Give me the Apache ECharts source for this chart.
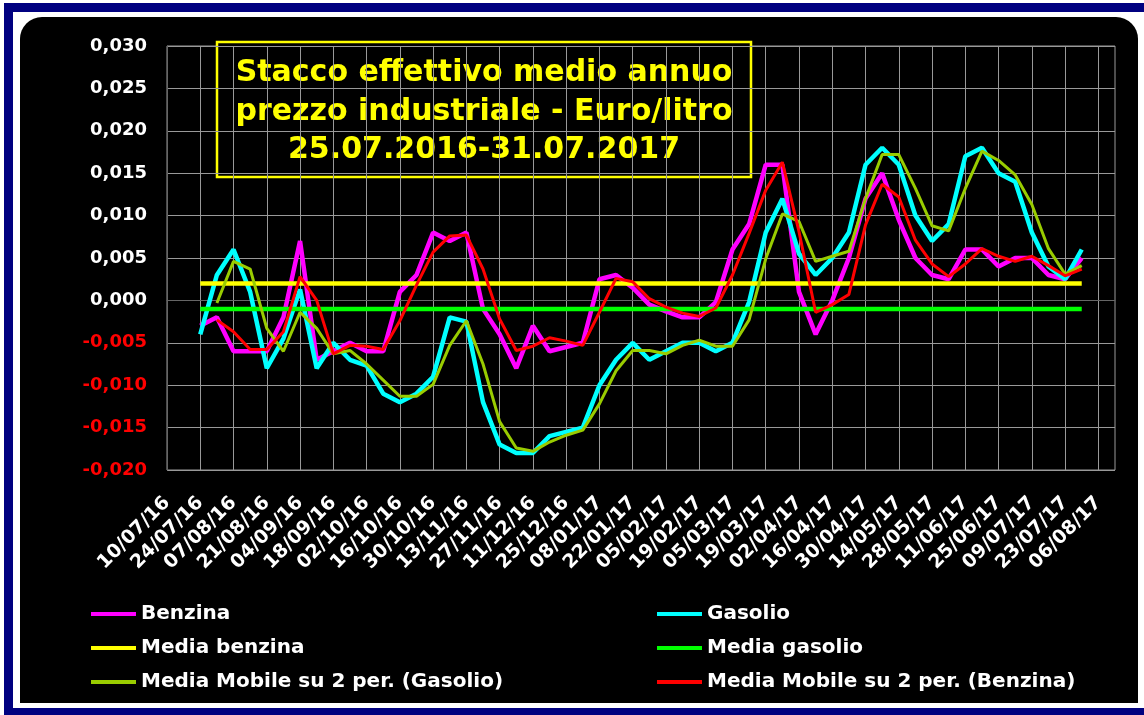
<!DOCTYPE html>
<html>
<head>
<meta charset="utf-8">
<script src="https://cdn.jsdelivr.net/npm/echarts@6/dist/echarts.min.js"></script>
<style>
  html, body { margin: 0; padding: 0; background: #fff; }
  .bar { position: absolute; background: #000080; }
  #box { position: absolute; left: 20px; top: 17px; width: 1118px; height: 686px; background: #000; border-radius: 22px 22px 0 0; }
  #chart { position: absolute; left: 0; top: 0; width: 1144px; height: 715px; }
</style>
</head>
<body>
<div class="bar" style="left:4px;top:3px;width:1140px;height:9px"></div>
<div class="bar" style="left:4px;top:3px;width:9px;height:712px"></div>
<div class="bar" style="left:4px;top:708px;width:1140px;height:7px"></div>
<div id="box"></div>
<div id="chart"></div>
<script>
// settimane (domeniche) dell'asse, etichetta ogni due settimane
const weeks = [
  "10/07/16", "17/07/16", "24/07/16", "31/07/16", "07/08/16", "14/08/16", "21/08/16", "28/08/16",
  "04/09/16", "11/09/16", "18/09/16", "25/09/16", "02/10/16", "09/10/16", "16/10/16", "23/10/16",
  "30/10/16", "06/11/16", "13/11/16", "20/11/16", "27/11/16", "04/12/16", "11/12/16", "18/12/16",
  "25/12/16", "01/01/17", "08/01/17", "15/01/17", "22/01/17", "29/01/17", "05/02/17", "12/02/17",
  "19/02/17", "26/02/17", "05/03/17", "12/03/17", "19/03/17", "26/03/17", "02/04/17", "09/04/17",
  "16/04/17", "23/04/17", "30/04/17", "07/05/17", "14/05/17", "21/05/17", "28/05/17", "04/06/17",
  "11/06/17", "18/06/17", "25/06/17", "02/07/17", "09/07/17", "16/07/17", "23/07/17", "30/07/17",
  "06/08/17", "13/08/17"
];
const firstWeek = "24/07/16";

const benzina = [
  -0.003, -0.002, -0.006, -0.006, -0.006, -0.002, 0.007, -0.007, -0.006, -0.005,
  -0.006, -0.006, 0.001, 0.003, 0.008, 0.007, 0.008, -0.001, -0.004, -0.008,
  -0.003, -0.006, -0.0055, -0.005, 0.0025, 0.003, 0.0015, -0.0005, -0.0013, -0.002,
  -0.002, -0.0002, 0.006, 0.009, 0.016, 0.016, 0.001, -0.004, 0.0, 0.005,
  0.012, 0.015, 0.0095, 0.005, 0.003, 0.0025, 0.006, 0.006, 0.004, 0.005,
  0.005, 0.003, 0.0025, 0.005
];
const gasolio = [
  -0.004, 0.003, 0.006, 0.001, -0.008, -0.0045, 0.0013, -0.008, -0.005, -0.007,
  -0.0077, -0.011, -0.012, -0.011, -0.009, -0.002, -0.0025, -0.012, -0.017, -0.018,
  -0.018, -0.016, -0.0155, -0.015, -0.010, -0.007, -0.005, -0.007, -0.006, -0.005,
  -0.005, -0.006, -0.005, -0.0002, 0.008, 0.012, 0.0055, 0.003, 0.005, 0.008,
  0.016, 0.018, 0.016, 0.010, 0.007, 0.009, 0.017, 0.018, 0.015, 0.014,
  0.008, 0.004, 0.0025, 0.006
];
// medie mobili su 2 periodi (la prima settimana non ha valore)
const mmGasolio = [
  null, -0.0003, 0.0046, 0.0037, -0.0033, -0.006, -0.0014, -0.0033, -0.0063, -0.0059,
  -0.0075, -0.0094, -0.0113, -0.0113, -0.0099, -0.0053, -0.0024, -0.0075, -0.0143, -0.0174,
  -0.0178, -0.0167, -0.0159, -0.0153, -0.0122, -0.0083, -0.0059, -0.0059, -0.0063, -0.0053,
  -0.0047, -0.0054, -0.0054, -0.0023, 0.0049, 0.0102, 0.0093, 0.0046, 0.0052, 0.0058,
  0.012, 0.0172, 0.0172, 0.0132, 0.0088, 0.0082, 0.0132, 0.0176, 0.0165, 0.0148,
  0.0113, 0.0061, 0.0031, 0.0041
];
const mmBenzina = [
  null, -0.0023, -0.0037, -0.0058, -0.0058, -0.0037, 0.0028, 0.0, -0.0063, -0.0053,
  -0.0054, -0.0058, -0.0024, 0.0018, 0.0057, 0.0076, 0.0077, 0.0037, -0.0022, -0.0059,
  -0.0054, -0.0044, -0.0048, -0.0053, -0.0014, 0.0026, 0.0022, 0.0002, -0.0008, -0.0015,
  -0.0019, -0.0009, 0.003, 0.0079, 0.013, 0.0163, 0.0081, -0.0014, -0.0005, 0.0007,
  0.0089, 0.0137, 0.0122, 0.0071, 0.0043, 0.0028, 0.0043, 0.0061, 0.0052, 0.0046,
  0.0052, 0.0041, 0.0029, 0.0037
];
// medie annue, dalla prima all'ultima settimana
const mediaWeeks = ["24/07/16", "30/07/17"];
const mediaBenzina = [0.002, 0.002];
const mediaGasolio = [-0.001, -0.001];

const font = "DejaVu Sans";
const start = weeks.indexOf(firstWeek);

function toPoints(values) {
  return values.map((v, i) => [start + i, v]);
}
function mediaPoints(values) {
  return values.map((v, i) => [weeks.indexOf(mediaWeeks[i]), v]);
}
function line(name, data, color, width) {
  return {
    name: name,
    type: "line",
    data: data,
    symbol: "none",
    color: color,
    lineStyle: { color: color, width: width },
    animation: false
  };
}

const legendText = { color: "#fff", fontSize: 20, fontWeight: "bold", fontFamily: font, lineHeight: 20 };

const chart = echarts.init(document.getElementById("chart"));
chart.setOption({
  backgroundColor: "transparent",
  animation: false,
  grid: { left: 167, right: 29, top: 46, bottom: 245, show: true, borderColor: "#999", borderWidth: 1 },
  xAxis: {
    type: "category",
    data: weeks,
    boundaryGap: false,
    axisLine: { lineStyle: { color: "#666", width: 1 } },
    axisTick: { show: false },
    axisLabel: {
      interval: 1,
      rotate: 45,
      margin: 30,
      color: "#fff",
      fontSize: 19,
      fontWeight: "bold",
      fontFamily: font
    },
    splitLine: { show: true, interval: 1, lineStyle: { color: "#999", width: 1 } }
  },
  yAxis: {
    type: "value",
    min: -0.02,
    max: 0.03,
    interval: 0.005,
    axisLine: { show: true, lineStyle: { color: "#666", width: 1 } },
    axisTick: { show: false },
    axisLabel: {
      margin: 20,
      fontSize: 18,
      fontWeight: "bold",
      fontFamily: font,
      color: function(v) {
        return Number(v) < -1e-9 ? "#ff0000" : "#ffffff";
      },
      formatter: function(v) {
        if (Math.abs(v) < 1e-9) v = 0;
        return v.toFixed(3).replace(".", ",");
      }
    },
    splitLine: { lineStyle: { color: "#999", width: 1 } }
  },
  legend: [
    {
      orient: "vertical",
      left: 91,
      top: 604,
      padding: 0,
      itemGap: 14,
      itemWidth: 45,
      itemHeight: 4,
      icon: "rect",
      textStyle: legendText,
      data: ["Benzina", "Media benzina", "Media Mobile su 2 per. (Gasolio)"]
    },
    {
      orient: "vertical",
      left: 657,
      top: 604,
      padding: 0,
      itemGap: 14,
      itemWidth: 45,
      itemHeight: 4,
      icon: "rect",
      textStyle: legendText,
      data: ["Gasolio", "Media gasolio", "Media Mobile su 2 per. (Benzina)"]
    }
  ],
  graphic: [
    {
      type: "group",
      z: 100,
      children: [
        {
          type: "rect",
          shape: { x: 217, y: 42, width: 534, height: 135 },
          style: { fill: "#000", stroke: "#ffff00", lineWidth: 2.5 }
        },
        {
          type: "text",
          x: 484,
          y: 112,
          style: {
            text: "Stacco effettivo medio annuo\nprezzo industriale - Euro/litro\n25.07.2016-31.07.2017",
            fill: "#ffff00",
            font: "bold 30px " + font,
            align: "center",
            verticalAlign: "middle",
            lineHeight: 38.5
          }
        }
      ]
    }
  ],
  series: [
    line("Benzina", toPoints(benzina), "#ff00ff", 4.5),
    line("Gasolio", toPoints(gasolio), "#00ffff", 4.5),
    line("Media benzina", mediaPoints(mediaBenzina), "#ffff00", 4.5),
    line("Media gasolio", mediaPoints(mediaGasolio), "#00ff00", 4.5),
    line("Media Mobile su 2 per. (Gasolio)", toPoints(mmGasolio), "#99cc00", 3),
    line("Media Mobile su 2 per. (Benzina)", toPoints(mmBenzina), "#ff0000", 3)
  ]
});
</script>
</body>
</html>
